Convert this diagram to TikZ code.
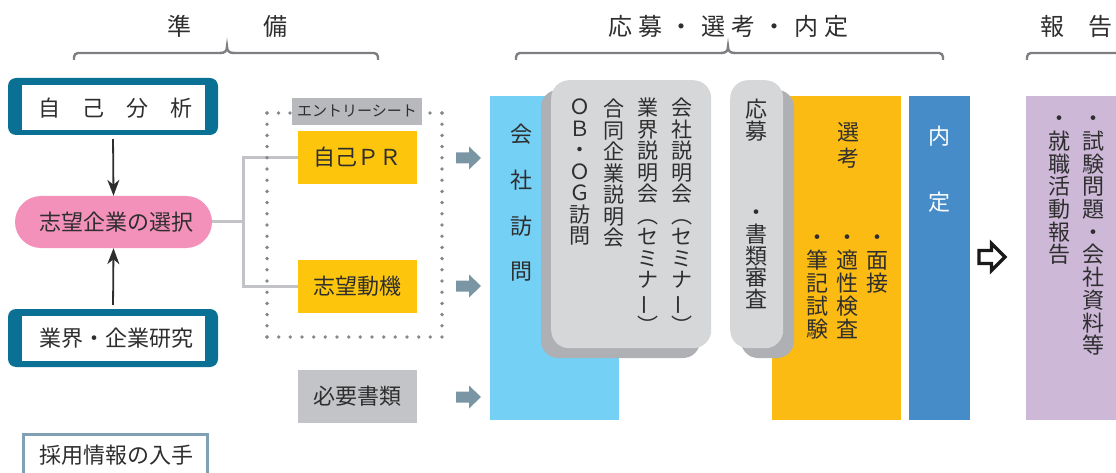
\documentclass[tikz,border=0pt]{standalone}
\usepackage{fontspec}
\newfontfamily\jp{Noto Sans CJK JP}
\usetikzlibrary{arrows.meta}
\definecolor{txt}{HTML}{2E2E2E}
\definecolor{tealc}{HTML}{0B7194}
\definecolor{pinkc}{HTML}{F391BB}
\definecolor{yellowA}{HTML}{FDC60D}
\definecolor{yellowB}{HTML}{FCBB13}
\definecolor{lblue}{HTML}{74D0F5}
\definecolor{dblue}{HTML}{468CC9}
\definecolor{purp}{HTML}{CDB8D8}
\definecolor{panelc}{HTML}{D6D7D9}
\definecolor{shadowc}{HTML}{AFB0B4}
\definecolor{grayboxc}{HTML}{C3C4C7}
\definecolor{labelc}{HTML}{B8B9BC}
\definecolor{arrowc}{HTML}{7A95A3}
\definecolor{connc}{HTML}{C2C3C6}
\definecolor{dotc}{HTML}{86878B}
\definecolor{brkc}{HTML}{7E7F83}
\definecolor{srcc}{HTML}{80A0B3}
\newcommand\vbar{\rotatebox[origin=c]{90}{ー}}
\begin{document}
\begin{tikzpicture}[x=1pt,y=-1pt,
  lbl/.style={font=\jp\fontsize{22}{24}\selectfont, text=txt, inner sep=0pt},
  ttl/.style={font=\jp\fontsize{24}{26}\selectfont, text=txt, inner sep=0pt},
  vt/.style={font=\jp\fontsize{22}{23}\selectfont, align=center, inner sep=0pt, anchor=north, text=txt},
  brk/.style={draw=brkc, line width=2.4pt, rounded corners=4pt},
  conn/.style={draw=connc, line width=3pt},
  dotline/.style={draw=dotc, line width=3.8pt, line cap=round},
  blk/.style={draw=txt, line width=1.8pt, -{Stealth[length=16pt,width=12pt,inset=5pt]}},
  yb/.style={fill=yellowA, minimum width=119pt, minimum height=53pt, inner sep=0pt}
]
\useasboundingbox (0,0) rectangle (1116,473);

% ---------- titles and brackets ----------
\node[ttl] (t1) at (227,26) {準\hspace{3em}備};
\node[ttl] (t2) at (728.5,26) {応\hspace{7pt}募\hspace{7pt}・\hspace{7pt}選\hspace{7pt}考\hspace{7pt}・\hspace{7pt}内\hspace{7pt}定};
\node[ttl] (t3) at (1076,26) {報\hspace{1em}告};

\draw[brk] (74,60) -- (74,53) -- (221,53);
\draw[brk] (233,53) -- (378,53) -- (378,60);
\draw[draw=brkc, line width=2.4pt] (220,53) .. controls (225,53) and (227,51) .. (227,46.5) .. controls (227,51) and (229,53) .. (234,53);

\draw[brk] (516,60) -- (516,53) -- (722,53);
\draw[brk] (734,53) -- (943,53) -- (943,60);
\draw[draw=brkc, line width=2.4pt] (721,53) .. controls (726,53) and (728,51) .. (728,46.5) .. controls (728,51) and (730,53) .. (735,53);

\draw[brk] (1027,60) -- (1027,53) -- (1120,53);

% ---------- left column ----------
\node[fill=tealc, rounded corners=8pt, minimum width=210pt, minimum height=57pt, inner sep=0pt] (selfout) at (113,106.5) {};
\node[fill=white, minimum width=183pt, minimum height=45pt, inner sep=0pt] (self) at (113.5,107.5) {};
\node[lbl] (selft) at (115,108) {自\hspace{1em}己\hspace{1em}分\hspace{1em}析};

\node[fill=pinkc, rounded corners=26pt, minimum width=197pt, minimum height=52pt, inner sep=0pt] (pill) at (113.5,222) {};
\node[lbl] (pillt) at (116,222) {志望企業の選択};

\node[fill=tealc, rounded corners=8pt, minimum width=210pt, minimum height=58pt, inner sep=0pt] (indout) at (113,338) {};
\node[fill=white, minimum width=183pt, minimum height=45pt, inner sep=0pt] (ind) at (113.5,338.5) {};
\node[lbl] (indt) at (116,338.5) {業界・企業研究};

\draw[blk, shorten <=4pt] (selfout.south) -- (pill.north);
\draw[blk, shorten <=4pt] (indout.north) -- (pill.south);

\node[draw=srcc, line width=2.6pt, minimum width=184pt, minimum height=46pt, inner sep=0pt, anchor=north west] (src) at (22,433) {};
\node[lbl] (srct) at (116,455) {採用情報の入手};

% ---------- entry sheet ----------
\coordinate (j) at (243,222);
\node[yb] (pr) at (357.5,157.5) {};
\node[lbl] (prt) at (357,157.5) {自己ＰＲ};
\node[yb] (mot) at (357.5,286.5) {};
\node[lbl] (mott) at (357,286.5) {志望動機};
\node[fill=grayboxc, minimum width=119pt, minimum height=53pt, inner sep=0pt] (docs) at (357.5,396.5) {};
\node[lbl] (docst) at (357,396.5) {必要書類};

\draw[conn] (pill.east) -- (j);
\draw[conn] (pr.west) -| (j) |- (mot.west);

\draw[dotline, dash pattern=on 0pt off 11.5pt] (267,113) -- (290,113);
\draw[dotline, dash pattern=on 0pt off 11.2pt] (267,113) -- (267,337);
\draw[dotline, dash pattern=on 0pt off 11.667pt] (267,337) -- (442,337);
\draw[dotline, dash pattern=on 0pt off 11.2pt] (442,113) -- (442,337);
\draw[dotline, dash pattern=on 0pt off 12pt] (430,113) -- (442,113);
\node[fill=labelc, minimum width=130pt, minimum height=27pt, inner sep=0pt] (es) at (357,111.5) {};
\node[font=\jp\fontsize{15}{16}\selectfont, text=txt, inner sep=0pt] (est) at (357,111.5) {エントリーシート};

% gray block arrows
\foreach \yy in {158,286,397}{
  \fill[arrowc, shift={(456,\yy)}] (0,-5.5) -- (13,-5.5) -- (13,-11.5) -- (25,0) -- (13,11.5) -- (13,5.5) -- (0,5.5) -- cycle;
}

% ---------- application / selection ----------
\node[fill=lblue, minimum width=129pt, minimum height=324pt, inner sep=0pt, anchor=north west] (visit) at (490,96) {};
\node[vt, font=\jp\fontsize{22}{45.7}\selectfont] (visitt) at (521,124) {会\\社\\訪\\問};

\fill[shadowc, rounded corners=17pt] (541,90) rectangle (700,358);
\node[fill=panelc, rounded corners=18pt, minimum width=160pt, minimum height=268pt, inner sep=0pt, anchor=north west] (sem) at (551,80) {};
\node[vt, font=\jp\fontsize{21}{21.5}\selectfont] (s1) at (682,98) {会\\社\\説\\明\\会\\︵\\セ\\ミ\\ナ\\\vbar\\︶};
\node[vt, font=\jp\fontsize{21}{21.5}\selectfont] (s2) at (648,98) {業\\界\\説\\明\\会\\︵\\セ\\ミ\\ナ\\\vbar\\︶};
\node[vt, font=\jp\fontsize{21}{21.5}\selectfont] (s3) at (614,99) {合\\同\\企\\業\\説\\明\\会};
\node[vt, font=\jp\fontsize{21}{21.5}\selectfont] (s4) at (580,99) {Ｏ\\Ｂ\\・\\Ｏ\\Ｇ\\訪\\問};

\node[fill=yellowB, minimum width=129pt, minimum height=324pt, inner sep=0pt, anchor=north west] (sel) at (772,96) {};

\fill[shadowc, rounded corners=17pt] (741,90) rectangle (794,358);
\node[fill=panelc, rounded corners=18pt, minimum width=53pt, minimum height=268pt, inner sep=0pt, anchor=north west] (appl) at (730,80) {};
\node[vt, font=\jp\fontsize{22}{22}\selectfont] (a1) at (756,99) {応\\募};
\node[vt, font=\jp\fontsize{22}{21.7}\selectfont] (a2) at (756,202) {\vphantom{書}・\\書\\類\\審\\査};

\node[vt, font=\jp\fontsize{22}{26}\selectfont] (selt) at (848,122) {選\\考};
\node[vt] (b1) at (877,227) {\vphantom{書}・\\面\\接};
\node[vt] (b2) at (847,227) {\vphantom{書}・\\適\\性\\検\\査};
\node[vt] (b3) at (817,227) {\vphantom{書}・\\筆\\記\\試\\験};

\node[fill=dblue, minimum width=61pt, minimum height=324pt, inner sep=0pt, anchor=north west] (offer) at (909,96) {};
\node[vt, font=\jp\fontsize{22}{66}\selectfont, text=white] (offert) at (939,126) {内\\定};

% outline arrow
\draw[draw=black!90, line width=3.4pt, fill=white, shift={(979,257)}] (0,-6.5) -- (12.5,-6.5) -- (12.5,-13.5) -- (26,0) -- (12.5,13.5) -- (12.5,6.5) -- (0,6.5) -- cycle;

% ---------- report ----------
\node[fill=purp, minimum width=95pt, minimum height=324pt, inner sep=0pt, anchor=north west] (rep) at (1026,96) {};
\node[vt, font=\jp\fontsize{22}{22.7}\selectfont] (r1) at (1093,108) {\vphantom{書}・\\試\\験\\問\\題\\・\\会\\社\\資\\料\\等};
\node[vt, font=\jp\fontsize{22}{22.7}\selectfont] (r2) at (1059,108) {\vphantom{書}・\\就\\職\\活\\動\\報\\告};
\end{tikzpicture}
\end{document}
